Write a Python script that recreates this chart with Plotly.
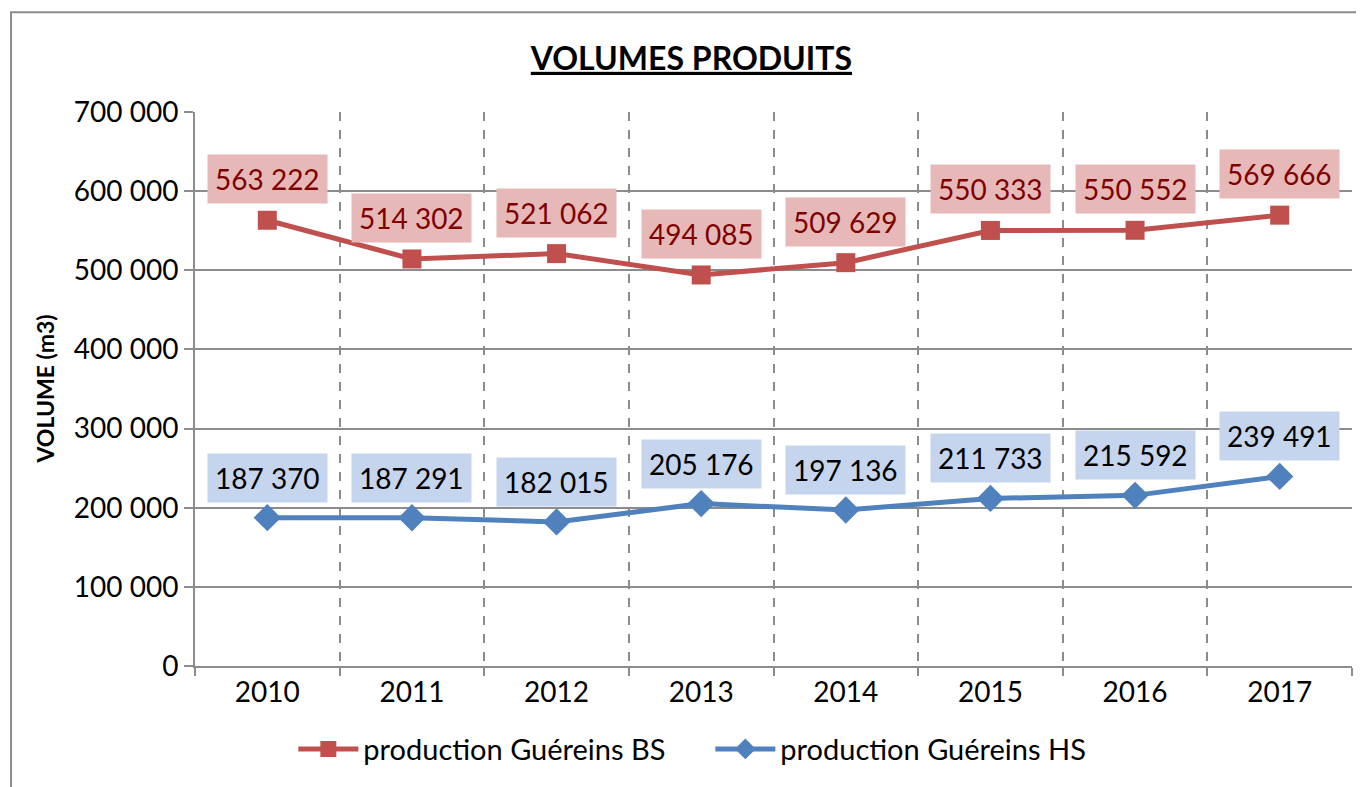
import plotly.graph_objects as go

# data
years = [2010, 2011, 2012, 2013, 2014, 2015, 2016, 2017]
prod_bs = [563222, 514302, 521062, 494085, 509629, 550333, 550552, 569666]
prod_hs = [187370, 187291, 182015, 205176, 197136, 211733, 215592, 239491]

red = '#C0504D'
blue = '#4F81BD'
grid = '#8C8C8C'
font = 'Lato'


def fmt(v):
    return f"{v:,}".replace(",", " ")


fig = go.Figure()
fig.add_trace(go.Scatter(x=years, y=prod_bs, mode='lines+markers',
                         name='production Guéreins BS',
                         line=dict(color=red, width=5),
                         marker=dict(symbol='square', size=19, color=red)))
fig.add_trace(go.Scatter(x=years, y=prod_hs, mode='lines+markers',
                         name='production Guéreins HS',
                         line=dict(color=blue, width=5),
                         marker=dict(symbol='diamond', size=21, color=blue)))

# value labels with filled boxes
for x, v in zip(years, prod_bs):
    fig.add_annotation(x=x, y=v, text=fmt(v), showarrow=False, yshift=41,
                       font=dict(family=font, size=28, color='#800000'),
                       bgcolor='#E6B9B8', borderpad=7)
for x, v in zip(years, prod_hs):
    fig.add_annotation(x=x, y=v, text=fmt(v), showarrow=False, yshift=40,
                       font=dict(family=font, size=28, color='black'),
                       bgcolor='#C6D5EE', borderpad=7)

# y axis title placed by hand
fig.add_annotation(xref='paper', yref='paper', x=-0.13, y=0.5,
                   xanchor='center', yanchor='middle',
                   text='<b>VOLUME (m3)</b>', textangle=-90, showarrow=False,
                   font=dict(family=font, size=23, color='black'))

# outer chart border (runs off the right/bottom edge)
fig.add_shape(type='rect', xref='paper', yref='paper',
              x0=-0.159, x1=1.05, y0=-0.3, y1=1.18,
              line=dict(color='#8C8C8C', width=2))

fig.update_layout(
    width=1356, height=779,
    margin=dict(l=187, r=12, t=104, b=119),
    paper_bgcolor='white', plot_bgcolor='white',
    separators=', ',
    font=dict(family=font, size=28, color='black'),
    title=dict(text='<b><u>VOLUMES PRODUITS</u></b>', x=0.504, xanchor='center',
               y=0.935, yanchor='middle', font=dict(family=font, size=32)),
    legend=dict(orientation='h', x=0.085, xanchor='left', y=-0.15,
                yanchor='middle', font=dict(family=font, size=29),
                itemwidth=60, entrywidth=342),
    xaxis=dict(range=[2009.5, 2017.5], tickvals=years, ticks='', showgrid=False,
               showline=True, linecolor=grid, linewidth=2,
               tickfont=dict(family=font, size=28),
               minor=dict(tick0=2009.5, dtick=1, ticks='outside', ticklen=8,
                          tickcolor=grid, tickwidth=2, showgrid=True,
                          gridcolor=grid, gridwidth=2, griddash='dash')),
    yaxis=dict(range=[0, 700000], dtick=100000, tickformat=',d',
               showgrid=True, gridcolor=grid, gridwidth=2,
               showline=True, linecolor=grid, linewidth=2,
               ticks='outside', ticklen=9, tickcolor=grid, tickwidth=2,
               tickfont=dict(family=font, size=28), zeroline=False),
)

fig.write_html("out.html")
